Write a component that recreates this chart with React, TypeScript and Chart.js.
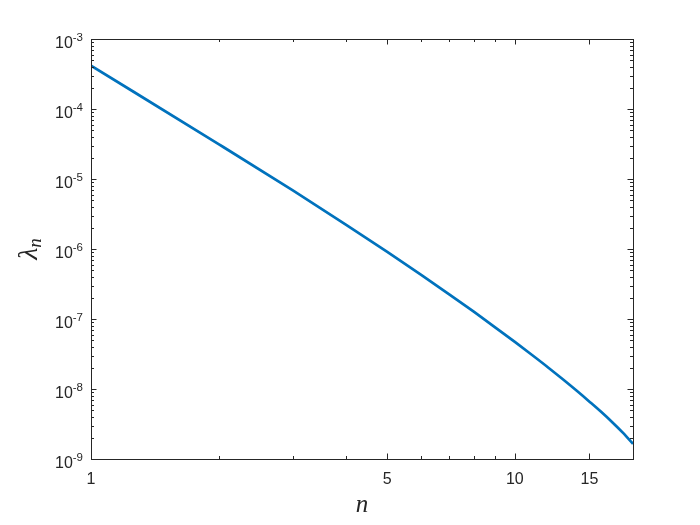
import React, { useEffect, useRef } from "react";
import { Chart, registerables } from "chart.js";

Chart.register(...registerables);

// Data: eigenvalues lambda_n for n = 1..19
const nValues = [1, 2, 3, 4, 5, 6, 7, 8, 9, 10, 11, 12, 13, 14, 15, 16, 17, 18, 19];
const lambdaValues = [
  4.16e-4, 3.155e-5, 6.82e-6, 2.218e-6, 9.1e-7, 4.31e-7, 2.254e-7, 1.271e-7, 7.55e-8,
  4.7e-8, 3.03e-8, 2.014e-8, 1.365e-8, 9.42e-9, 6.59e-9, 4.68e-9, 3.33e-9, 2.36e-9, 1.644e-9,
];
const xTickValues = [1, 5, 10, 15];
const xMinorTickValues = [2, 3, 4, 6, 7, 8, 9];
const yTickExponents = [-9, -8, -7, -6, -5, -4, -3];
const xLabel = "n";
const yLabelMain = "λ";
const yLabelSub = "n";

const AXIS_COLOR = "#262626";
const LINE_COLOR = "#0072BD";

const axesPlugin = {
  id: "matlabAxes",
  afterDraw(chart: any) {
    const ctx = chart.ctx as CanvasRenderingContext2D;
    const { left, right, top, bottom } = chart.chartArea;
    const xs = chart.scales.x;
    const ys = chart.scales.y;
    ctx.save();
    ctx.strokeStyle = AXIS_COLOR;
    ctx.lineWidth = 1;
    // box
    ctx.strokeRect(Math.round(left) + 0.5, Math.round(top) + 0.5, Math.round(right - left), Math.round(bottom - top));

    const major = 5.5;
    const minor = 3;
    ctx.beginPath();
    // x ticks
    const xTick = (v: number, len: number) => {
      const px = Math.round(xs.getPixelForValue(v)) + 0.5;
      ctx.moveTo(px, bottom);
      ctx.lineTo(px, bottom - len);
      ctx.moveTo(px, top);
      ctx.lineTo(px, top + len);
    };
    xTickValues.forEach((v) => xTick(v, major));
    xMinorTickValues.forEach((v) => xTick(v, minor));
    // y ticks
    const yTick = (v: number, len: number) => {
      const py = Math.round(ys.getPixelForValue(v)) + 0.5;
      ctx.moveTo(left, py);
      ctx.lineTo(left + len, py);
      ctx.moveTo(right, py);
      ctx.lineTo(right - len, py);
    };
    yTickExponents.forEach((e) => {
      yTick(Math.pow(10, e), major);
      if (e < -3) {
        for (let m = 2; m <= 9; m++) yTick(m * Math.pow(10, e), minor);
      }
    });
    ctx.stroke();

    // y tick labels
    ctx.fillStyle = AXIS_COLOR;
    ctx.textBaseline = "alphabetic";
    yTickExponents.forEach((e) => {
      const py = ys.getPixelForValue(Math.pow(10, e));
      ctx.font = "11.5px 'Liberation Sans', Arial, sans-serif";
      const sup = String(e);
      const supW = ctx.measureText(sup).width;
      const supRight = left - 8;
      ctx.textAlign = "left";
      ctx.fillText(sup, supRight - supW, py + 1.5);
      ctx.font = "16px 'Liberation Sans', Arial, sans-serif";
      ctx.textAlign = "right";
      ctx.fillText("10", supRight - supW, py + 9);
    });

    // x tick labels
    ctx.font = "16px 'Liberation Sans', Arial, sans-serif";
    ctx.textAlign = "center";
    xTickValues.forEach((v) => {
      const px = xs.getPixelForValue(v);
      ctx.fillText(String(v), px, bottom + 25);
    });

    // x axis title
    ctx.font = "italic 25px 'Liberation Serif', 'DejaVu Serif', serif";
    ctx.textAlign = "center";
    ctx.fillText(xLabel, (left + right) / 2, bottom + 53);

    // y axis title
    ctx.save();
    ctx.translate(37, (top + bottom) / 2);
    ctx.rotate(-Math.PI / 2);
    ctx.font = "italic 28px 'Liberation Serif', 'DejaVu Serif', serif";
    const wMain = ctx.measureText(yLabelMain).width;
    ctx.font = "italic 19px 'Liberation Serif', 'DejaVu Serif', serif";
    const wSub = ctx.measureText(yLabelSub).width;
    const start = -(wMain + wSub) / 2;
    ctx.textAlign = "left";
    ctx.font = "italic 28px 'Liberation Serif', 'DejaVu Serif', serif";
    ctx.fillText(yLabelMain, start, 0);
    ctx.font = "italic 19px 'Liberation Serif', 'DejaVu Serif', serif";
    ctx.fillText(yLabelSub, start + wMain, 4);
    ctx.restore();

    ctx.restore();
  },
};

export default function App() {
  const canvasRef = useRef<HTMLCanvasElement | null>(null);

  useEffect(() => {
    document.body.style.margin = "0";
    const canvas = canvasRef.current;
    if (!canvas) return;
    const chart = new Chart(canvas, {
      type: "line",
      data: {
        datasets: [
          {
            data: nValues.map((n, i) => ({ x: n, y: lambdaValues[i] })),
            borderColor: LINE_COLOR,
            borderWidth: 2.7,
            pointRadius: 0,
            cubicInterpolationMode: "monotone",
            fill: false,
          },
        ],
      },
      options: {
        responsive: false,
        animation: false,
        layout: { padding: { left: 0, right: 67, top: 39, bottom: 0 } },
        plugins: {
          legend: { display: false },
          tooltip: { enabled: false },
        },
        scales: {
          x: {
            type: "logarithmic",
            min: 1,
            max: 19,
            grid: { display: false },
            border: { display: false },
            ticks: { display: false },
            afterBuildTicks: (scale: any) => {
              scale.ticks = xTickValues.map((v) => ({ value: v }));
            },
            afterFit: (scale: any) => {
              scale.height = 66;
            },
          },
          y: {
            type: "logarithmic",
            min: 1e-9,
            max: 1e-3,
            grid: { display: false },
            border: { display: false },
            ticks: { display: false },
            afterBuildTicks: (scale: any) => {
              scale.ticks = yTickExponents.map((e) => ({ value: Math.pow(10, e) }));
            },
            afterFit: (scale: any) => {
              scale.width = 91;
            },
          },
        },
      } as any,
      plugins: [axesPlugin],
    });
    return () => chart.destroy();
  }, []);

  return (
    <div style={{ width: 700, height: 525, background: "#ffffff" }}>
      <canvas ref={canvasRef} width={700} height={525} style={{ display: "block" }} />
    </div>
  );
}
